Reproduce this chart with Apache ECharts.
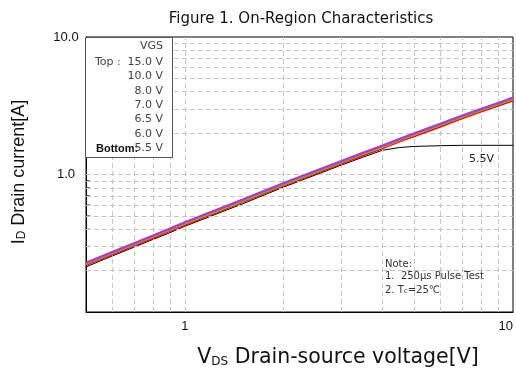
<!DOCTYPE html>
<html>
<head>
<meta charset="utf-8">
<script src="https://cdn.jsdelivr.net/npm/echarts@6/dist/echarts.min.js"></script>
<style>html,body{margin:0;padding:0;background:#fff;}#c{width:516px;height:376px;}</style>
</head>
<body>
<div id="c"></div>
<script>
const vds = [0.5,0.6,0.7,0.8,0.9,1,1.5,2,3,3.5,4,4.5,5,6,7,8,9,10];
const id15  = [0.229,0.274,0.318,0.362,0.406,0.452,0.66,0.87,1.26,1.45,1.63,1.82,2.0,2.35,2.7,3.02,3.33,3.65];
const id10  = [0.227,0.271,0.315,0.359,0.402,0.448,0.654,0.862,1.248,1.435,1.614,1.80,1.98,2.327,2.673,2.99,3.30,3.61];
const id8   = [0.225,0.269,0.312,0.355,0.398,0.443,0.647,0.853,1.235,1.42,1.597,1.78,1.96,2.30,2.646,2.96,3.26,3.57];
const id7   = [0.223,0.266,0.309,0.352,0.394,0.439,0.64,0.844,1.222,1.407,1.58,1.765,1.94,2.28,2.62,2.93,3.23,3.53];
const id65  = [0.221,0.264,0.306,0.348,0.39,0.434,0.634,0.835,1.21,1.392,1.565,1.747,1.92,2.256,2.59,2.90,3.20,3.49];
const id6   = [0.219,0.261,0.303,0.344,0.386,0.43,0.627,0.827,1.197,1.377,1.548,1.73,1.89,2.22,2.55,2.86,3.15,3.44];
const id55  = [0.213,0.255,0.296,0.337,0.377,0.42,0.612,0.81,1.17,1.34,1.50,1.57,1.60,1.62,1.63,1.63,1.63,1.63];
const seriesNames = ['15.0 V','10.0 V','8.0 V','7.0 V','6.5 V','6.0 V','5.5 V'];
const seriesData = [id15,id10,id8,id7,id65,id6,id55];
const colors = ['#a43ad8','#d03cc8','#3aa83a','#f59a1a','#f03030','#e00000','#000000'];
const xGrid = [0.6,0.7,0.8,0.9,1,2,3,4,5,6,7,8,9];
const yGrid = [0.2,0.3,0.4,0.5,0.6,0.7,0.8,0.9,1,2,3,4,5,6,7,8,9];
const xTickLabels = [1,10];
const yTickLabels = [1,10];

const chart = echarts.init(document.getElementById('c'), null, {renderer:'canvas'});
const FF = '"Liberation Sans", Arial, sans-serif';
const FD = '"DejaVu Sans", sans-serif';

function isIn(v, arr){ return arr.some(a => Math.abs(a - v) < 1e-6 * a); }

const series = [];
series.push({
  type:'line', name:'grid', data:[], z:1, silent:true,
  markLine:{
    silent:true, symbol:'none', animation:false,
    label:{show:false},
    lineStyle:{type:[5,3], color:'#c4c4c4', width:1},
    data: xGrid.map(v=>({xAxis:v})).concat(yGrid.map(v=>({yAxis:v})))
  }
});
series.push({
  type:'scatter', name:'yticks', z:3, silent:true,
  symbol:'rect', symbolSize:[4,1], symbolOffset:[2,0],
  itemStyle:{color:'#000'},
  data: yGrid.map(v=>[0.5, v])
});
seriesData.forEach((d,i)=>{
  series.push({
    type:'line', name:seriesNames[i], z: 10 - i,
    data: vds.map((x,j)=>[x,d[j]]),
    showSymbol:false, symbol:'none', smooth:false,
    lineStyle:{color:colors[i], width: i===6 ? 1 : 1.6},
    silent:true, animation:false
  });
});

const graphics = [
  {type:'rect', shape:{x:85.5, y:37.5, width:87, height:120}, style:{fill:'#fff', stroke:'#555', lineWidth:1}, z:100},
  {type:'text', x:163, y:46, style:{text:'VGS', font:'11px '+FD, fill:'#444', textAlign:'right', textVerticalAlign:'middle'}, z:101},
  {type:'text', x:95, y:62, style:{text:'Top :', font:'11px '+FD, fill:'#444', textAlign:'left', textVerticalAlign:'middle'}, z:101},
  {type:'text', x:96, y:148.5, style:{text:'Bottom:', font:'bold 11px '+FF, fill:'#111', textAlign:'left', textVerticalAlign:'middle'}, z:101}
];
seriesNames.forEach((n,i)=>{
  graphics.push({type:'text', x:163, y:62 + i*14.4, style:{text:n, font:'11px '+FD, fill:'#444', textAlign:'right', textVerticalAlign:'middle'}, z:101});
});
graphics.push({type:'text', x:469, y:159, style:{text:'5.5V', font:'11px '+FD, fill:'#222', textAlign:'left', textVerticalAlign:'middle'}, z:50});
graphics.push({type:'text', x:385, y:264, style:{text:'Note:', font:'10px '+FD, fill:'#333', textVerticalAlign:'middle'}, z:50});
graphics.push({type:'text', x:385, y:276, style:{text:'1.  250\u03bcs Pulse Test', font:'10px '+FD, fill:'#333', textVerticalAlign:'middle'}, z:50});
graphics.push({type:'text', x:385, y:289, style:{
  text:'{a|2. T}{s|c}{a|=25\u2103}', textVerticalAlign:'middle',
  rich:{a:{font:'10px '+FD, fill:'#333', lineHeight:12, verticalAlign:'bottom'}, s:{font:'7px '+FD, fill:'#333', lineHeight:12, verticalAlign:'bottom'}}
}, z:50});
// axis titles
graphics.push({type:'text', x:338, y:357, style:{
  text:'{a|V}{s|DS}{a| Drain-source voltage[V]}', textAlign:'center', textVerticalAlign:'middle',
  rich:{a:{font:'20.5px '+FD, fill:'#111', lineHeight:22, verticalAlign:'bottom'}, s:{font:'12px '+FD, fill:'#111', lineHeight:19, verticalAlign:'bottom'}}
}, z:50});
graphics.push({type:'text', x:18, y:172, rotation:Math.PI/2, style:{
  text:'{a|I}{s|D}{a| Drain current[A]}', textAlign:'center', textVerticalAlign:'middle',
  rich:{a:{font:'18px '+FF, fill:'#111', lineHeight:20, verticalAlign:'bottom'}, s:{font:'12px '+FF, fill:'#111', lineHeight:18, verticalAlign:'bottom'}}
}, z:50});

chart.setOption({
  animation:false,
  backgroundColor:'#fff',
  title:{text:'Figure 1. On-Region Characteristics', left:296, top:7, textAlign:'center',
    textStyle:{fontFamily:FD, fontSize:15, fontWeight:'normal', color:'#111'}},
  grid:{left:86, right:2, top:37, bottom:64, show:true, borderColor:'#000', borderWidth:1, backgroundColor:'transparent'},
  xAxis:{type:'log', logBase:10, min:0.5, max:10,
    axisLine:{show:true, onZero:false, lineStyle:{color:'#000', width:1}},
    axisTick:{show:false},
    splitLine:{show:false},
    axisLabel:{fontFamily:FF, fontSize:13, color:'#111', margin:8, alignMaxLabel:'right',
      showMinLabel:true, showMaxLabel:true,
      formatter:v=> isIn(v, xTickLabels) ? String(Math.round(v)) : ''}
  },
  yAxis:{type:'log', logBase:10, min:0.1, max:10,
    axisLine:{show:true, onZero:false, lineStyle:{color:'#000', width:1}},
    axisTick:{show:true, inside:true, length:4, lineStyle:{color:'#000'}},
    splitLine:{show:false},
    axisLabel:{fontFamily:FF, fontSize:13, color:'#111', margin:20, align:'center',
      formatter:v=> isIn(v, yTickLabels) ? v.toFixed(1) : ''}
  },
  series: series,
  graphic: graphics
});
</script>
</body>
</html>
